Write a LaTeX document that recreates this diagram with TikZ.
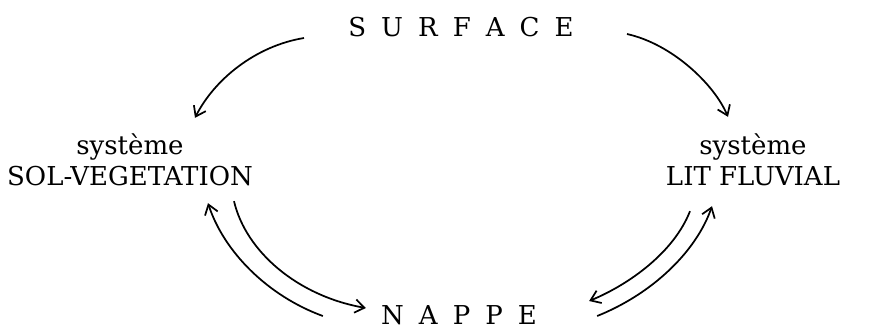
\documentclass[tikz,border=0pt]{standalone}
\usepackage{fontspec}
\setmainfont{DejaVu Serif}
\usepackage{tikz}
\usetikzlibrary{arrows.meta,calc}
\newcommand{\lsp}{\hspace{11.3pt}}
\tikzset{
  every node/.style={inner sep=0pt,font=\fontsize{19.5}{23}\selectfont},
  sys/.style={align=center},
  ar/.style={-{Straight Barb[length=7pt,width=10pt,line width=1.3pt]},line width=1.3pt},
}
\begin{document}
\begin{tikzpicture}[x=0.75pt,y=-0.75pt]
\useasboundingbox (0,0) rectangle (876,330);
% the four stores
\node (surf) at (461,27) {S\lsp U\lsp R\lsp F\lsp A\lsp C\lsp E};
\node[sys] (sol) at (130,160) {système\\SOL-VEGETATION};
\node[sys] (lit) at (753,160) {système\\LIT FLUVIAL};
\node (nappe) at (459,315) {N\lsp A\lsp P\lsp P\lsp E};
% from the surface
\draw[ar] ($(surf.west)+(-44,11)$) .. controls (255,46) and (214,80) .. ($(sol.north)+(65,-16)$);
\draw[ar] ($(surf.east)+(53,7)$) .. controls (672,44) and (714,84) .. ($(lit.north)+(-25,-17)$);
% exchanges with the water table
\draw[ar] ($(nappe.west)+(-58,1)$) .. controls (268,296) and (224,252) .. ($(sol.south)+(78,17)$);
\draw[ar] ($(sol.south)+(104,15)$) .. controls (246,252) and (298,296) .. ($(nappe.west)+(-15,-7)$);
\draw[ar] ($(nappe.east)+(60,1)$) .. controls (652,294) and (696,252) .. ($(lit.south)+(-41,20)$);
\draw[ar] ($(lit.south)+(-63,25)$) .. controls (674,252) and (630,284) .. ($(nappe.east)+(52,-14)$);
\end{tikzpicture}
\end{document}
